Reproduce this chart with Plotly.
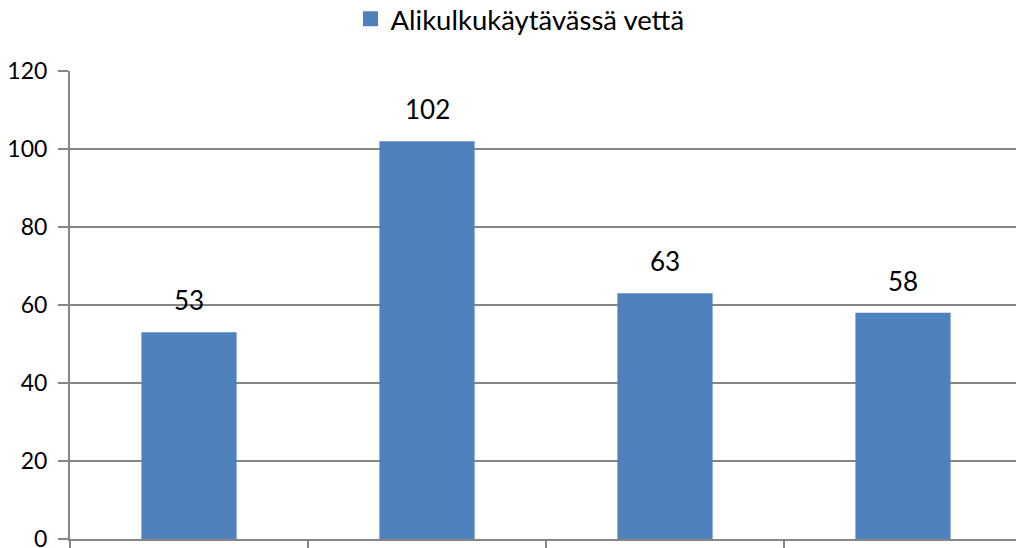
import plotly.graph_objects as go

categories = ["A", "B", "C", "D"]
values = [53, 102, 63, 58]
series_name = "Alikulkukäytävässä vettä"
y_ticks = [0, 20, 40, 60, 80, 100, 120]

BAR = "#4F81BD"
GRID = "#868686"
FONT = "Lato, 'Open Sans', sans-serif"

fig = go.Figure()
fig.add_trace(go.Bar(x=categories, y=values, name=series_name,
                     marker=dict(color=BAR, line=dict(width=0)), width=0.4,
                     showlegend=False))
# legend entry with a larger square swatch
fig.add_trace(go.Scatter(x=[None], y=[None], mode="markers", name=series_name,
                         marker=dict(symbol="square", size=15, color=BAR),
                         showlegend=True))

for c, v in zip(categories, values):
    fig.add_annotation(x=c, y=v, text=str(v), showarrow=False, yshift=32,
                       font=dict(size=26, color="#000000", family=FONT))

fig.update_layout(
    width=1024, height=548,
    margin=dict(l=62, r=10, t=63, b=17, autoexpand=False),
    paper_bgcolor="white", plot_bgcolor="white",
    font=dict(family=FONT, size=26, color="#000000"),
    showlegend=True,
    legend=dict(orientation="h", x=0.5, xref="container", xanchor="center",
                y=0.980, yref="container", yanchor="middle",
                font=dict(size=27.5, family=FONT), itemwidth=30,
                bgcolor="rgba(0,0,0,0)"),
    bargap=0.6,
)
fig.update_xaxes(type="category", showticklabels=False, showline=True,
                 linecolor=GRID, linewidth=2, ticks="outside", tickson="boundaries",
                 ticklen=12, tickcolor=GRID, tickwidth=2, showgrid=False,
                 range=[-0.5, 3.5], automargin=False)
fig.update_yaxes(range=[0, 120], tickvals=y_ticks, showline=True, linecolor=GRID,
                 linewidth=2, showgrid=True, gridcolor=GRID, gridwidth=2,
                 ticks="outside", ticklen=10, tickcolor=GRID, tickwidth=2,
                 zeroline=False, ticklabelstandoff=6, automargin=False,
                 tickfont=dict(size=23, family=FONT, color="#000000"))

fig.write_html("out.html")
